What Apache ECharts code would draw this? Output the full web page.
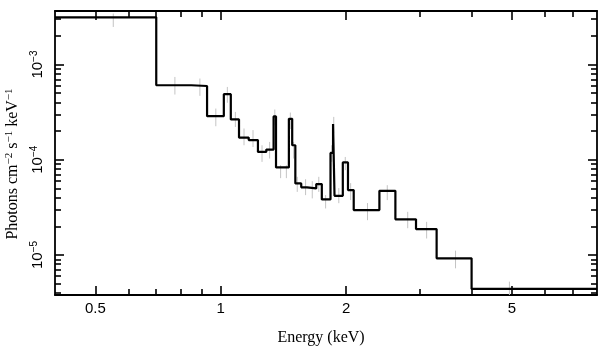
<!DOCTYPE html>
<html>
<head>
<meta charset="utf-8">
<script src="https://cdn.jsdelivr.net/npm/echarts@6/dist/echarts.min.js"></script>
<style>
  html, body { margin: 0; padding: 0; background: #ffffff; }
  #chart { width: 609px; height: 357px; }
</style>
</head>
<body>
<div id="chart"></div>
<script>
// ---- Model step spectrum (bin edges in keV, model values per bin) ----
const binEdges = [0.4, 0.7, 0.85, 0.927, 1.017, 1.057, 1.106, 1.167, 1.228, 1.286,
                  1.339, 1.357, 1.42, 1.457, 1.484, 1.51, 1.56, 1.61, 1.695, 1.748,
                  1.834, 1.86, 1.875, 1.963, 2.02, 2.085, 2.403, 2.625, 2.942, 3.297,
                  4.0, 8.0];
const modelVals = [3.13e-3, 6.06e-4, 5.95e-4, 2.87e-4, 4.88e-4, 2.65e-4, 1.71e-4, 1.61e-4, 1.21e-4, 1.28e-4,
                   2.85e-4, 8.3e-5, 8.3e-5, 2.69e-4, 1.42e-4, 5.64e-5, 5.13e-5, 5.0e-5, 5.55e-5, 3.83e-5,
                   1.18e-4, 2.37e-4, 4.18e-5, 9.37e-5, 4.8e-5, 2.96e-5, 4.72e-5, 2.37e-5, 1.87e-5, 9.23e-6,
                   4.4e-6];

// ---- Data points (grey error bars): energy, lower and upper flux ----
const dataE  = [0.552, 0.776, 0.891, 0.973, 1.037, 1.084, 1.137, 1.195, 1.256, 1.31,
                1.348, 1.392, 1.437, 1.469, 1.496, 1.526, 1.598, 1.658, 1.719, 1.785,
                1.846, 1.867, 1.92, 1.99, 2.05, 2.25, 2.51, 2.81, 3.12, 3.66, 4.93];
const dataLo = [2.48e-3, 4.84e-4, 4.69e-4, 2.25e-4, 3.97e-4, 2.21e-4, 1.42e-4, 1.36e-4, 9.5e-5, 1.03e-4,
                2.3e-4, 6.41e-5, 6.41e-5, 2.1e-4, 1.03e-4, 4.6e-5, 4.25e-5, 3.93e-5, 4.6e-5, 3.08e-5,
                9.5e-5, 1.9e-4, 3.5e-5, 7.78e-5, 3.77e-5, 2.32e-5, 3.77e-5, 1.91e-5, 1.49e-5, 7.24e-6, 3.6e-6];
const dataHi = [3.43e-3, 7.41e-4, 7.13e-4, 3.45e-4, 5.82e-4, 3.18e-4, 2.13e-4, 2.05e-4, 1.42e-4, 1.54e-4,
                3.37e-4, 8.77e-5, 8.77e-5, 3.13e-4, 1.54e-4, 6.62e-5, 6.25e-5, 5.96e-5, 6.62e-5, 4.26e-5,
                1.42e-4, 2.82e-4, 5.04e-5, 1.07e-4, 5.68e-5, 3.51e-5, 5.41e-5, 2.84e-5, 2.23e-5, 1.11e-5, 5.25e-6];

// ---- Axis ranges and ticks ----
const xRange = [0.4, 8];
const yRange = [3.8e-6, 3.65e-3];
const xMajorTicks = [0.5, 1, 2, 5];
const xMinorTicks = [0.6, 0.7, 0.8, 0.9, 3, 4, 6, 7];
const yMajorTicks = [1e-5, 1e-4, 1e-3];
const yMinorTicks = [4e-6, 5e-6, 6e-6, 7e-6, 8e-6, 9e-6,
                     2e-5, 3e-5, 4e-5, 5e-5, 6e-5, 7e-5, 8e-5, 9e-5,
                     2e-4, 3e-4, 4e-4, 5e-4, 6e-4, 7e-4, 8e-4, 9e-4,
                     2e-3, 3e-3];

const stepData = binEdges.map((e, i) => [e, modelVals[Math.min(i, modelVals.length - 1)]]);
const errData = dataE.map((e, i) => [e, dataLo[i], dataHi[i]]);

const LINE_W = 1.8;

// tick-only axis (frame side)
function tickAxis(position, range, ticks, len, showLine) {
  return {
    type: 'log', position: position, min: range[0], max: range[1],
    axisLine: { show: showLine, onZero: false, lineStyle: { color: '#000', width: LINE_W } },
    axisTick: { show: true, inside: true, length: len, customValues: ticks,
                lineStyle: { color: '#000', width: 1.6 } },
    axisLabel: { show: false },
    splitLine: { show: false }
  };
}
// label-only axis
function labelAxis(position, range, ticks, labelOpts, nameOpts) {
  return Object.assign({
    type: 'log', position: position, min: range[0], max: range[1],
    axisLine: { show: false, onZero: false },
    axisTick: { show: false },
    axisLabel: Object.assign({ show: true, customValues: ticks, color: '#000' }, labelOpts),
    splitLine: { show: false }
  }, nameOpts);
}

const xLabels = labelAxis('bottom', xRange, xMajorTicks, {
  margin: 6, fontFamily: 'Liberation Sans', fontSize: 15, formatter: v => String(v)
}, {
  name: 'Energy (keV)', nameLocation: 'middle', nameGap: 35,
  nameTextStyle: { fontFamily: 'Liberation Serif', fontSize: 16, color: '#000', padding: [0, 10, 0, 0] }
});

const yLabels = labelAxis('left', yRange, yMajorTicks, {
  margin: 9, rotate: 90,
  formatter: v => '{n|10}{s|\u2212' + Math.round(-Math.log10(v)) + '}',
  rich: {
    n: { fontFamily: 'Liberation Sans', fontSize: 15, lineHeight: 17, color: '#000' },
    s: { fontFamily: 'Liberation Sans', fontSize: 10, lineHeight: 10, verticalAlign: 'top', color: '#000' }
  }
}, {
  name: '{n|Photons cm}{s|\u22122}{n| s}{s|\u22121}{n| keV}{s|\u22121}',
  nameLocation: 'middle', nameRotate: 90, nameGap: 29,
  nameTextStyle: {
    color: '#000', padding: [0, 22, 0, 0],
    rich: {
      n: { fontFamily: 'Liberation Serif', fontSize: 16, lineHeight: 18, color: '#000' },
      s: { fontFamily: 'Liberation Serif', fontSize: 11, lineHeight: 11, verticalAlign: 'top', color: '#000' }
    }
  }
});

const option = {
  animation: false,
  backgroundColor: '#ffffff',
  grid: { left: 55, right: 12, top: 11, bottom: 62, containLabel: false, outerBoundsMode: 'none' },
  xAxis: [
    tickAxis('bottom', xRange, xMajorTicks, 9, true),
    tickAxis('bottom', xRange, xMinorTicks, 6, false),
    tickAxis('top', xRange, xMajorTicks, 9, true),
    tickAxis('top', xRange, xMinorTicks, 6, false),
    xLabels
  ],
  yAxis: [
    tickAxis('left', yRange, yMajorTicks, 9, true),
    tickAxis('left', yRange, yMinorTicks, 6, false),
    tickAxis('right', yRange, yMajorTicks, 9, true),
    tickAxis('right', yRange, yMinorTicks, 6, false),
    yLabels
  ],
  series: [
    {
      type: 'custom', xAxisIndex: 0, yAxisIndex: 0, z: 1, clip: true,
      data: errData,
      encode: { x: 0, y: [1, 2] },
      renderItem: function (params, api) {
        const x = api.value(0);
        const p1 = api.coord([x, api.value(1)]);
        const p2 = api.coord([x, api.value(2)]);
        return {
          type: 'line',
          shape: { x1: p1[0], y1: p1[1], x2: p2[0], y2: p2[1] },
          style: { stroke: '#c4c4c4', lineWidth: 1 }
        };
      }
    },
    {
      type: 'line', xAxisIndex: 0, yAxisIndex: 0, z: 3, step: 'end',
      data: stepData, showSymbol: false, symbol: 'none', clip: true,
      lineStyle: { color: '#000', width: 2.2 }
    }
  ]
};

const chart = echarts.init(document.getElementById('chart'), null, { renderer: 'canvas' });
chart.setOption(option);
</script>
</body>
</html>
